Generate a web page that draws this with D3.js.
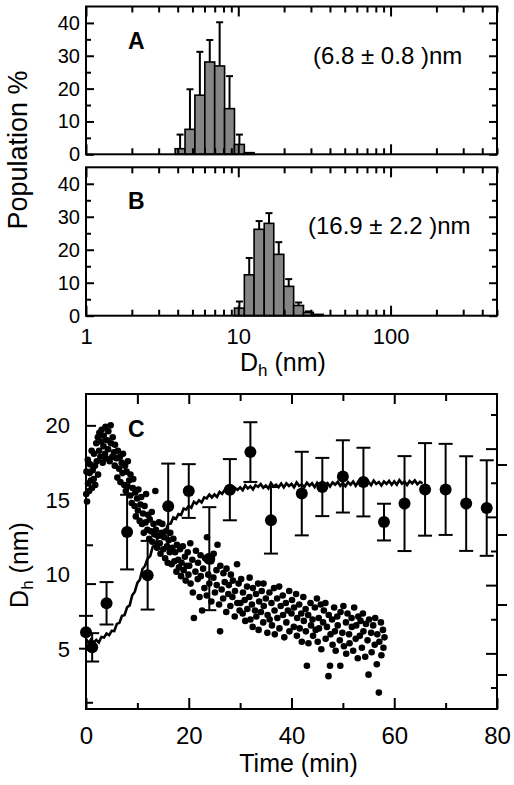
<!DOCTYPE html>
<html><head><meta charset="utf-8">
<script src="https://cdn.jsdelivr.net/npm/d3@7"></script>
<style>
body{margin:0;background:#fff}
svg{display:block}
text{font-family:"Liberation Sans",Arial,Helvetica,sans-serif;fill:#000}
</style>
</head><body>
<svg id="chart" width="514" height="785"></svg>
<script>
// ---------- DATA ----------
// histogram bin edges (nm), shared by panels A and B
const binEdges = [3.85,4.47,5.19,6.03,7.00,8.13,9.44,10.96,12.7,14.8,17.1,19.9,23.1,26.8,31.1,36.1];
const popA = [1.7,7.6,18.0,28.1,26.9,13.9,3.0,0.5,0,0,0,0,0,0,0];
const errA = [4.3,12.2,13.2,6.7,13.3,9.9,3.0,0,0,0,0,0,0,0,0];
const popB = [0,0,0,0,0,0,2.3,12.4,26.2,28.0,18.6,8.9,3.1,1.0,0.4];
const errB = [0,0,0,0,0,0,2.0,5.1,2.5,3.1,3.7,2.2,0.9,0.3,0];
const histXTicks = [1,10,100];
const histYTicks = [0,10,20,30,40];
const labelA = "(6.8 \u00B1 0.8 )nm";
const labelB = "(16.9 \u00B1 2.2 )nm";

// panel C: large circles with error bars
const circT = [0,1.2,4,8,12,16,20,24,28,32,36,42,46,50,54,58,62,66,70,74,78];
const circV = [6.14,5.13,8.08,12.85,9.96,14.58,15.6,11.07,15.69,18.21,13.64,15.43,15.87,16.58,16.2,13.52,14.76,15.71,15.71,14.76,14.46];
const circE = [1.1,0.95,1.42,2.5,2.3,2.86,1.8,3.45,2.05,2.0,2.23,2.8,1.95,2.42,2.3,1.23,3.18,3.1,3.05,3.17,3.2];

// panel C: small dots [time (min), Dh (nm)]
const dots = [
[0.05,15.4],[0.1,16.9],[0.2,14.9],[0.35,17.7],[0.4,16.1],[0.6,15.6],[0.7,16.8],[0.75,17.4],[0.95,16.3],[1.1,18.3],
[1.15,15.8],[1.3,17.0],[1.5,16.4],[1.55,18.1],[1.75,17.3],[1.8,16.0],[2.0,18.8],[2.1,17.6],[2.3,19.2],[2.35,16.7],
[2.55,18.3],[2.6,19.5],[2.8,17.9],[3.0,18.9],[3.05,19.7],[3.25,17.5],[3.4,18.6],[3.45,19.3],[3.7,18.1],[3.8,19.9],
[3.9,17.8],[4.1,19.0],[4.3,18.4],[4.35,19.6],[4.6,17.6],[4.8,20.0],[4.85,18.8],[5.1,17.9],[5.2,19.2],[5.45,18.2],
[5.6,17.3],[5.65,18.7],[5.9,17.8],[6.1,16.5],[6.2,18.3],[6.45,17.1],[6.6,17.9],[6.7,16.2],[6.95,17.5],[7.1,16.8],
[7.2,18.1],[7.45,16.0],[7.6,17.3],[7.75,15.6],[7.9,16.9],[8.1,15.9],[8.15,17.6],[8.4,16.3],[8.6,15.3],[8.65,16.7],
[8.9,14.8],[9.1,15.8],[9.2,16.4],[9.45,14.6],[9.6,15.5],[9.7,13.9],[9.95,15.1],[10.1,14.3],[10.2,15.7],[10.45,13.6],
[10.6,14.7],[10.75,15.2],[10.9,13.4],[11.1,14.1],[11.25,12.8],[11.4,14.6],[11.6,13.5],[11.7,15.4],[11.95,13.0],[12.1,14.0],
[12.3,12.4],[12.4,13.7],[12.65,12.9],[12.8,14.2],[12.9,12.2],[13.15,13.4],[13.3,12.7],[13.5,15.6],[13.6,13.0],[13.85,11.8],
[13.95,12.6],[14.2,13.5],[14.35,12.1],[14.5,11.4],[14.7,12.8],[14.85,13.4],[15.05,11.7],[15.2,12.5],[15.4,11.1],[15.55,12.9],
[15.75,11.9],[15.9,10.8],[16.1,12.3],[16.3,11.5],[16.4,12.8],[16.65,10.7],[16.8,11.8],[17.0,12.4],[17.2,10.9],[17.35,11.5],
[17.6,10.2],[17.7,12.0],[17.95,11.0],[18.1,10.5],[18.3,11.7],[18.5,9.9],[18.6,10.8],[18.85,11.9],[19.0,10.3],[19.25,11.2],
[19.4,9.6],[19.6,10.6],[19.8,11.5],[19.95,10.0],
[20.1,10.6],[20.3,12.1],[20.35,9.4],[20.7,11.0],[20.8,8.8],[21.0,7.1],[21.3,10.2],[21.4,11.6],[21.75,9.7],[21.8,10.8],
[22.1,8.5],[22.3,11.3],[22.35,9.9],[22.6,7.6],[22.8,10.4],[23.05,9.1],[23.2,11.1],[23.5,8.6],[23.55,12.5],[23.8,10.0],
[24.0,9.4],[24.35,10.9],[24.4,8.2],[24.8,9.8],[24.85,11.4],[25.1,8.8],[25.4,10.3],[25.45,9.3],[25.6,12.0],[25.9,8.0],
[26.1,6.2],[26.15,10.6],[26.4,9.0],[26.7,8.4],[26.75,10.1],[27.0,9.5],[27.3,7.5],[27.35,10.4],[27.7,8.7],[27.8,9.3],
[28.1,7.9],[28.2,10.0],[28.5,8.5],[28.6,9.6],[28.95,7.2],[29.0,8.9],[29.4,10.7],[29.45,8.1],[29.7,9.4],[29.9,7.6],
[30.05,8.1],[30.2,9.7],[30.5,7.4],[30.55,8.8],[30.9,8.3],[31.0,6.9],[31.35,9.2],[31.4,7.7],[31.8,8.5],[31.85,9.8],
[32.0,7.0],[32.3,8.0],[32.45,6.5],[32.5,9.1],[32.9,7.6],[33.1,8.7],[33.15,7.2],[33.5,9.4],[33.6,6.3],[33.7,8.2],
[34.05,7.5],[34.2,8.9],[34.5,6.8],[34.55,9.4],[34.6,7.9],[35.0,8.4],[35.3,6.1],[35.35,7.3],[35.7,8.8],[35.75,7.0],
[36.1,8.1],[36.2,6.6],[36.6,9.1],[36.7,7.6],[36.75,6.0],[37.2,8.4],[37.25,7.1],[37.6,9.2],[37.65,6.4],[37.9,7.9],
[38.3,8.6],[38.35,7.3],[38.6,5.8],[38.9,8.1],[39.0,6.8],[39.3,7.6],[39.55,8.9],[39.6,6.2],[40.0,7.4],[40.1,8.3],
[40.45,6.5],[40.5,7.8],[40.9,8.7],[41.05,5.9],[41.1,7.1],[41.5,8.0],[41.6,6.4],[41.9,7.4],[42.0,5.5],[42.3,8.5],
[42.4,6.9],[42.75,7.7],[42.8,6.2],[43.0,3.9],[43.25,7.3],[43.3,5.4],[43.7,8.1],[43.8,6.6],[44.1,7.0],[44.2,5.9],
[44.55,7.8],[44.7,6.3],[44.95,8.4],
[45.1,5.5],[45.3,7.1],[45.35,6.4],[45.7,8.0],[45.8,5.0],[46.15,6.8],[46.3,7.6],[46.6,8.1],[46.65,5.7],[46.9,6.5],
[47.2,3.2],[47.25,7.3],[47.5,3.9],[47.6,6.0],[47.9,7.0],[48.0,5.3],[48.3,7.8],[48.45,6.2],[48.6,4.9],[48.9,7.2],
[49.0,6.6],[49.4,5.6],[49.5,3.9],[49.55,7.5],[49.9,6.1],[50.1,7.9],[50.2,5.2],[50.6,6.8],[50.65,4.7],[50.9,7.4],
[51.2,6.0],[51.3,5.4],[51.7,7.1],[51.75,6.5],[52.0,4.9],[52.2,7.8],[52.5,5.7],[52.6,6.6],[52.9,4.4],[53.0,7.2],
[53.3,5.9],[53.45,6.9],[53.7,5.1],[53.9,7.4],[54.0,6.2],[54.35,4.5],[54.5,6.7],[54.8,5.6],[55.0,3.3],[55.1,7.0],
[55.5,6.1],[55.6,4.8],[55.9,6.6],[56.2,5.3],[56.3,7.1],[56.6,4.0],[56.7,6.0],[57.0,2.1],[57.1,5.5],[57.4,6.8],
[57.5,4.6],[57.8,6.3],[57.9,5.1],[58.1,5.8]
];

// panel C: fitted (noisy) curve, sampled every 0.5 min from 0 to 65.5 min
const lineV = [
5.7,5.43,5.68,5.45,5.63,5.45,5.82,5.78,6.06,5.95,
6.24,6.22,6.7,6.77,7.24,7.28,7.81,7.94,8.62,8.86,
9.45,9.68,10.38,10.6,11.08,11.25,11.87,11.97,12.51,12.5,
12.89,12.92,13.4,13.42,13.84,13.73,14.06,13.99,14.42,14.36,
14.6,14.48,14.88,14.75,14.98,14.83,15.18,15.11,15.36,15.17,
15.37,15.21,15.54,15.41,15.68,15.46,15.68,15.5,15.81,15.68,
15.85,15.66,15.98,15.77,15.92,15.71,16.0,15.88,16.07,15.82,
15.97,15.78,16.14,15.9,16.02,15.85,16.1,15.84,16.12,15.94,
16.08,15.85,16.18,15.95,16.04,15.88,16.16,15.96,16.12,15.86,
16.15,15.93,16.23,16.0,16.13,15.9,16.17,16.03,16.21,15.95,
16.14,15.92,16.2,16.02,16.24,15.95,16.22,16.08,16.26,16.0,
16.22,16.0,16.3,16.07,16.2,15.97,16.24,16.08,16.28,16.02,
16.25,16.03,16.33,16.1,16.23,16.0,16.27,16.11,16.31,16.05,
16.22,16.12
];
const lineStart = 0, lineStep = 0.5;
const cXTicks = [0,20,40,60,80];
const cYLabels = [5,10,15,20];

// ---------- DRAW ----------
const svg = d3.select("#chart");
const FONT = '"Liberation Sans",Arial,Helvetica,sans-serif';

function styleAxis(g, fs){
  g.select(".domain").remove();
  g.attr("font-family", FONT);
  g.selectAll(".tick line").attr("stroke","#000").attr("stroke-width",2);
  g.selectAll(".tick text").attr("fill","#000").attr("font-size",fs);
  return g;
}
function frame(x0,x1,y0,y1){
  svg.append("rect").attr("x",x0).attr("y",y0).attr("width",x1-x0).attr("height",y1-y0)
    .attr("fill","none").attr("stroke","#000").attr("stroke-width",2);
}

// ---- Panels A and B ----
const hx = d3.scaleLog().domain([1,500]).range([86,497]);
const minorLog = [];
[1,10,100].forEach(d => { for (let k=2;k<=9;k++){ const v=d*k; if (v<=500) minorLog.push(v);} });
const bins = d3.range(binEdges.length-1).map(i => ({lo:binEdges[i], hi:binEdges[i+1]}));

function histPanel(top, bottom, pop, err, letter, label, labelX, labelY, showXLabels){
  const y = d3.scaleLinear().domain([0,45]).range([bottom, top]);
  const g = svg.append("g");
  bins.forEach((b,i) => {
    if (pop[i] <= 0) return;
    const xl = hx(b.lo), xr = hx(b.hi), xm = (xl+xr)/2;
    if (err[i] > 0){
      g.append("line").attr("x1",xm).attr("x2",xm).attr("y1",y(pop[i])).attr("y2",y(pop[i]+err[i]))
        .attr("stroke","#000").attr("stroke-width",2);
      g.append("line").attr("x1",xm-3.5).attr("x2",xm+3.5).attr("y1",y(pop[i]+err[i])).attr("y2",y(pop[i]+err[i]))
        .attr("stroke","#000").attr("stroke-width",2);
    }
    g.append("rect").attr("x",xl).attr("y",y(pop[i])).attr("width",xr-xl).attr("height",y(0)-y(pop[i]))
      .attr("fill","#858585").attr("stroke","#000").attr("stroke-width",1.6);
  });
  styleAxis(svg.append("g").attr("transform",`translate(0,${bottom})`)
    .call(d3.axisBottom(hx).tickValues(histXTicks).tickSize(-10).tickPadding(13)
      .tickFormat(showXLabels ? d3.format("d") : () => "")), 22);
  styleAxis(svg.append("g").attr("transform",`translate(0,${bottom})`)
    .call(d3.axisBottom(hx).tickValues(minorLog).tickSize(-6).tickFormat(() => "")), 10);
  styleAxis(svg.append("g").attr("transform",`translate(0,${top})`)
    .call(d3.axisTop(hx).tickValues(histXTicks).tickSize(-10).tickFormat(() => "")), 10);
  styleAxis(svg.append("g").attr("transform",`translate(0,${top})`)
    .call(d3.axisTop(hx).tickValues(minorLog).tickSize(-6).tickFormat(() => "")), 10);
  styleAxis(svg.append("g").attr("transform",`translate(86,0)`)
    .call(d3.axisLeft(y).tickValues(histYTicks).tickSize(-8).tickPadding(6)), 20);
  styleAxis(svg.append("g").attr("transform",`translate(86,0)`)
    .call(d3.axisLeft(y).tickValues([5,15,25,35]).tickSize(-5).tickFormat(() => "")), 10);
  styleAxis(svg.append("g").attr("transform",`translate(497,0)`)
    .call(d3.axisRight(y).tickValues(histYTicks).tickSize(-8).tickFormat(() => "")), 10);
  styleAxis(svg.append("g").attr("transform",`translate(497,0)`)
    .call(d3.axisRight(y).tickValues([5,15,25,35]).tickSize(-5).tickFormat(() => "")), 10);
  frame(86,497,top,bottom);
  svg.append("text").attr("x",128).attr("y",top+42).attr("font-size",23).attr("font-weight","bold").text(letter);
  svg.append("text").attr("x",labelX).attr("y",labelY).attr("font-size",24).text(label);
}
histPanel(6.5, 154.3, popA, errA, "A", labelA, 313, 63.5, false);
histPanel(167.3, 315.7, popB, errB, "B", labelB, 308, 234, true);

// Population % label
svg.append("text").attr("transform","translate(27,150) rotate(-90)").attr("text-anchor","middle")
  .attr("font-size",27).text("Population %");

// Dh (nm) label for A/B
const dhAB = svg.append("text").attr("x",240).attr("y",371).attr("font-size",25);
dhAB.append("tspan").text("D");
dhAB.append("tspan").attr("font-size",17).attr("dy",5).text("h");
dhAB.append("tspan").attr("dy",-5).text(" (nm)");

// ---- Panel C ----
const cx0 = 86, cx1 = 497, cy0 = 394, cy1 = 709;
const x = d3.scaleLinear().domain([0,80]).range([cx0,cx1]);
const y = d3.scaleLinear().domain([1,22.1]).range([cy1,cy0]);

styleAxis(svg.append("g").attr("transform",`translate(0,${cy1})`)
  .call(d3.axisBottom(x).tickValues(cXTicks).tickSize(-11).tickPadding(18).tickFormat(d3.format("d"))), 24);
styleAxis(svg.append("g").attr("transform",`translate(0,${cy1})`)
  .call(d3.axisBottom(x).tickValues([10,30,50,70]).tickSize(-6).tickFormat(() => "")), 10);
styleAxis(svg.append("g").attr("transform",`translate(0,${cy0})`)
  .call(d3.axisTop(x).tickValues([10,20,40,60]).tickSize(-10).tickFormat(() => "")), 10);
styleAxis(svg.append("g").attr("transform",`translate(0,${cy0})`)
  .call(d3.axisTop(x).tickValues([30,50,70]).tickSize(-7).tickFormat(() => "")), 10);
styleAxis(svg.append("g").attr("transform",`translate(${cx0},0)`)
  .call(d3.axisLeft(y).tickValues(cYLabels).tickSize(0).tickPadding(16).tickFormat(d3.format("d"))), 22);
styleAxis(svg.append("g").attr("transform",`translate(${cx0},0)`)
  .call(d3.axisLeft(y).tickValues([20,9.4]).tickSize(-10).tickFormat(() => "")), 10);
styleAxis(svg.append("g").attr("transform",`translate(${cx0},0)`)
  .call(d3.axisLeft(y).tickValues([12,5,1.45]).tickSize(-7).tickFormat(() => "")), 10);
const yR1 = d3.scaleLinear().domain([0,8]).range([687.5,414.5]);
styleAxis(svg.append("g").attr("transform",`translate(${cx1},0)`)
  .call(d3.axisRight(yR1).tickValues([1,3,5,7]).tickSize(-11).tickFormat(() => "")), 10);
styleAxis(svg.append("g").attr("transform",`translate(${cx1},0)`)
  .call(d3.axisRight(yR1).tickValues([0,2,4,6,8]).tickSize(-6).tickFormat(() => "")), 10);
const yR2 = d3.scaleLinear().domain([0,3]).range([674.5,464.5]);
styleAxis(svg.append("g").attr("transform",`translate(${cx1},0)`)
  .call(d3.axisRight(yR2).tickValues([0,1,2,3]).tickSize(10).tickFormat(() => "")), 10);

frame(cx0,cx1,cy0,cy1);

svg.append("g").selectAll("circle").data(dots).join("circle")
  .attr("cx", d => x(d[0])).attr("cy", d => y(d[1])).attr("r",3.3).attr("fill","#000");

const lineData = lineV.map((v,i) => [lineStart + i*lineStep, v]);
svg.append("path").datum(lineData)
  .attr("d", d3.line().x(d => x(d[0])).y(d => y(d[1])))
  .attr("fill","none").attr("stroke","#000").attr("stroke-width",2.6).attr("stroke-linejoin","miter");

const eg = svg.append("g").attr("stroke","#000").attr("stroke-width",2);
circT.forEach((t,i) => {
  const xc = x(t), yt = y(circV[i]+circE[i]), yb = y(circV[i]-circE[i]);
  eg.append("line").attr("x1",xc).attr("x2",xc).attr("y1",yt).attr("y2",yb);
  eg.append("line").attr("x1",xc-7).attr("x2",xc+7).attr("y1",yt).attr("y2",yt);
  eg.append("line").attr("x1",xc-7).attr("x2",xc+7).attr("y1",yb).attr("y2",yb);
});
svg.append("g").selectAll("circle").data(circT).join("circle")
  .attr("cx", d => x(d)).attr("cy", (d,i) => y(circV[i])).attr("r",6).attr("fill","#000");

svg.append("text").attr("x",128).attr("y",436.5).attr("font-size",23).attr("font-weight","bold").text("C");
svg.append("text").attr("x",(cx0+cx1)/2+7).attr("y",772).attr("text-anchor","middle").attr("font-size",25).text("Time (min)");
const dhC = svg.append("text").attr("transform","translate(28,565) rotate(-90)").attr("text-anchor","middle").attr("font-size",25);
dhC.append("tspan").text("D");
dhC.append("tspan").attr("font-size",17).attr("dy",5).text("h");
dhC.append("tspan").attr("dy",-5).text(" (nm)");
</script>
</body></html>
